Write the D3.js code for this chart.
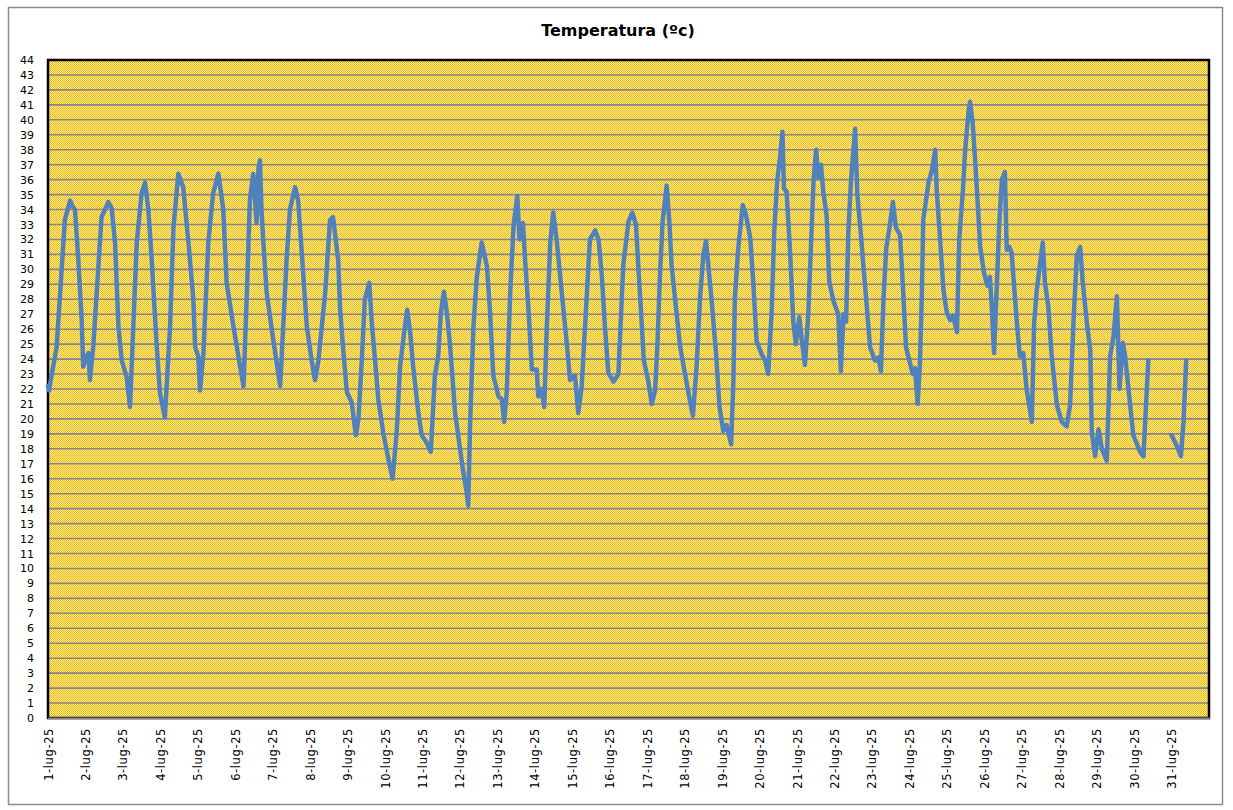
<!DOCTYPE html>
<html>
<head>
<meta charset="utf-8">
<script src="https://cdn.jsdelivr.net/npm/d3@7"></script>
<style>
  html, body { margin: 0; padding: 0; background: #ffffff; }
  svg { display: block; }
</style>
</head>
<body>
<svg id="chart" width="1233" height="810"></svg>
<script>
// ---- DATA ----
const title = "Temperatura (ºc)";
const dayLabels = ["1-lug-25","2-lug-25","3-lug-25","4-lug-25","5-lug-25","6-lug-25","7-lug-25","8-lug-25","9-lug-25","10-lug-25","11-lug-25","12-lug-25","13-lug-25","14-lug-25","15-lug-25","16-lug-25","17-lug-25","18-lug-25","19-lug-25","20-lug-25","21-lug-25","22-lug-25","23-lug-25","24-lug-25","25-lug-25","26-lug-25","27-lug-25","28-lug-25","29-lug-25","30-lug-25","31-lug-25"];
const yTicks = d3.range(0, 45);
// time in day-of-month (1.00 = 1 July 00:00), temperature in °C; null = missing reading
const times = [
 1.00,1.03,1.06,1.23,1.45,1.59,1.66,1.72,1.81,1.90,1.94,2.00,2.08,2.12,2.21,2.34,2.43,2.61,2.70,2.79,2.88,2.97,3.10,3.19,
 3.37,3.50,3.59,3.68,3.77,3.90,3.99,4.12,4.26,4.35,4.48,4.61,4.75,4.88,4.93,5.01,5.06,5.15,5.28,5.41,5.55,5.68,5.77,5.95,
 6.13,6.22,6.31,6.39,6.48,6.57,6.62,6.66,6.70,6.75,6.84,7.02,7.15,7.20,7.37,7.46,7.60,7.68,7.82,7.91,8.04,8.13,8.22,8.40,
 8.53,8.61,8.75,8.80,8.89,8.98,9.11,9.22,9.29,9.38,9.46,9.58,9.64,9.73,9.82,9.95,10.09,10.20,10.31,10.40,10.53,10.59,10.67,
 10.75,10.89,10.98,11.11,11.22,11.33,11.42,11.49,11.57,11.65,11.73,11.87,11.98,12.09,12.18,12.22,12.27,12.36,12.45,12.58,
 12.72,12.80,12.89,13.03,13.12,13.18,13.25,13.34,13.43,13.53,13.59,13.68,13.74,13.83,13.92,14.05,14.09,14.18,14.25,14.32,
 14.41,14.49,14.58,14.72,14.85,14.94,15.07,15.16,15.25,15.34,15.47,15.61,15.70,15.79,15.87,15.96,16.10,16.23,16.36,16.50,
 16.60,16.70,16.76,16.85,16.91,17.03,17.12,17.21,17.27,17.34,17.41,17.52,17.59,17.65,17.74,17.88,18.01,18.14,18.22,18.32,
 18.41,18.50,18.57,18.63,18.72,18.84,18.93,19.03,19.12,19.24,19.30,19.34,19.43,19.55,19.64,19.75,19.83,19.92,20.06,20.15,
 20.23,20.32,20.39,20.47,20.55,20.61,20.65,20.72,20.81,20.90,20.97,21.06,21.13,21.21,21.30,21.37,21.44,21.51,21.57,21.64,
 21.70,21.79,21.86,21.97,22.10,22.17,22.24,22.31,22.37,22.44,22.55,22.61,22.70,22.77,22.86,22.95,23.08,23.17,23.24,23.31,
 23.38,23.47,23.56,23.64,23.75,23.82,23.91,24.00,24.09,24.15,24.22,24.28,24.33,24.37,24.51,24.60,24.69,24.73,24.82,24.91,
 25.00,25.09,25.17,25.27,25.33,25.43,25.49,25.58,25.62,25.69,25.75,25.83,25.89,25.99,26.08,26.15,26.20,26.26,26.33,26.40,
 26.47,26.55,26.60,26.67,26.73,26.79,26.87,26.95,27.04,27.13,27.27,27.33,27.40,27.49,27.56,27.62,27.71,27.80,27.94,28.07,
 28.20,28.29,28.38,28.47,28.56,28.63,28.74,28.83,28.87,28.96,29.05,29.14,29.27,29.36,29.45,29.54,29.61,29.70,29.76,29.85,
 29.98,30.16,30.25,30.34,30.38,30.70,31.00,31.14,31.25,31.32,31.39
];
const temps = [
 22.2,21.9,22.4,24.8,33.3,34.6,34.2,34.0,30.6,26.6,23.5,24.0,24.4,22.6,24.9,30.0,33.5,34.5,34.1,31.8,26.2,23.9,22.8,20.8,
 31.8,35.1,35.8,34.0,30.6,25.0,21.7,20.1,26.2,32.8,36.4,35.5,31.8,28.0,24.8,24.2,21.9,24.4,31.8,35.1,36.4,34.0,29.1,26.2,
 23.5,22.2,28.4,34.6,36.4,33.1,36.8,37.3,34.0,31.8,28.4,25.2,23.0,22.2,30.6,34.0,35.5,34.6,29.5,26.2,23.9,22.6,23.9,28.4,
 33.3,33.5,30.6,27.3,24.4,21.8,21.1,18.9,20.0,24.0,28.0,29.1,26.6,24.0,21.3,19.1,17.3,16.0,19.1,23.5,26.2,27.3,25.8,
 23.5,20.4,18.9,18.4,17.8,22.9,24.2,27.1,28.5,27.1,25.1,20.4,18.4,16.4,15.1,14.2,19.6,26.2,29.5,31.8,
 30.2,27.3,22.9,21.5,21.3,19.8,21.8,28.4,32.9,34.9,32.0,33.1,30.6,27.3,23.3,23.3,21.5,22.0,20.8,26.2,
 31.8,33.8,32.0,28.4,25.1,22.6,22.9,20.4,22.2,26.2,32.0,32.6,32.0,29.5,26.2,23.1,22.5,23.0,30.3,33.2,
 33.8,33.0,30.3,26.5,23.9,22.5,21.0,21.9,24.8,29.6,33.2,35.6,33.2,30.3,28.1,24.8,23.0,21.2,20.2,23.6,
 28.1,31.0,31.9,30.3,27.9,24.3,20.8,19.2,19.6,18.3,22.5,28.1,31.4,34.3,33.6,32.1,29.2,25.2,24.3,23.9,
 23.0,27.0,32.5,35.9,37.6,39.2,35.4,35.2,31.4,26.5,25.0,26.8,25.2,23.6,27.0,31.4,35.9,38.0,36.1,37.0,
 35.2,33.6,29.2,27.9,27.0,23.2,27.0,26.5,32.5,35.9,39.4,35.0,32.5,30.3,27.6,24.8,23.9,24.1,23.2,28.1,
 31.4,32.8,34.5,32.8,32.3,29.2,24.8,23.9,23.0,23.4,21.0,23.6,28.1,33.3,35.8,36.6,38.0,35.3,32.0,28.6,
 27.1,26.6,26.9,25.8,32.0,35.3,38.0,40.6,41.2,39.8,37.5,34.2,31.5,29.8,28.9,29.5,27.5,24.4,28.6,33.1,
 36.0,36.5,31.3,31.5,31.1,29.1,26.4,24.2,24.4,22.0,19.8,26.4,28.6,30.4,31.8,29.1,27.5,24.2,20.9,19.8,
 19.5,20.9,26.4,30.9,31.5,29.1,26.4,24.6,19.1,17.5,19.3,18.0,17.2,24.2,25.5,28.2,22.0,25.1,24.2,22.0,
 18.9,17.8,17.5,22.0,23.9,null,18.9,18.2,17.5,19.8,23.9
];

// ---- LAYOUT ----
const plot = { left: 48, top: 60, right: 1209, bottom: 718 };
const svg = d3.select("#chart");

// outer chart border
svg.append("rect")
  .attr("x", 8.5).attr("y", 7.5).attr("width", 1214).attr("height", 797)
  .attr("fill", "#ffffff").attr("stroke", "#8c8c8c").attr("stroke-width", 1.5);

// checker pattern for plot area
const defs = svg.append("defs");
const pat = defs.append("pattern").attr("id", "chk")
  .attr("patternUnits", "userSpaceOnUse").attr("width", 2).attr("height", 2);
pat.append("rect").attr("width", 2).attr("height", 2).attr("fill", "#FFEDA4");
pat.append("rect").attr("x", 0).attr("y", 0).attr("width", 1).attr("height", 1).attr("fill", "#F4B900");
pat.append("rect").attr("x", 1).attr("y", 1).attr("width", 1).attr("height", 1).attr("fill", "#F4B900");

const x = d3.scaleLinear().domain([1, 32]).range([plot.left, plot.right]);
const y = d3.scaleLinear().domain([0, 44]).range([plot.bottom, plot.top]);

svg.append("rect")
  .attr("x", plot.left).attr("y", plot.top)
  .attr("width", plot.right - plot.left).attr("height", plot.bottom - plot.top)
  .attr("fill", "url(#chk)");

// gridlines
svg.append("g").selectAll("line").data(yTicks.filter(d => d > 0 && d < 44)).join("line")
  .attr("x1", plot.left).attr("x2", plot.right)
  .attr("y1", d => y(d)).attr("y2", d => y(d))
  .attr("stroke", "#868686").attr("stroke-width", 1.6);

// plot border
svg.append("rect")
  .attr("x", plot.left).attr("y", plot.top)
  .attr("width", plot.right - plot.left).attr("height", plot.bottom - plot.top)
  .attr("fill", "none").attr("stroke", "#000").attr("stroke-width", 2.5);
// x axis line (gray)
svg.append("line")
  .attr("x1", plot.left).attr("x2", plot.right + 1)
  .attr("y1", y(0) + 0.5).attr("y2", y(0) + 0.5)
  .attr("stroke", "#868686").attr("stroke-width", 2);

// y axis labels
const yAxis = d3.axisLeft(y).tickValues(yTicks).tickSize(0).tickPadding(14);
const gy = svg.append("g").attr("transform", `translate(${plot.left},0)`).call(yAxis);
gy.select(".domain").remove();
gy.selectAll("text").attr("font-family", "'DejaVu Sans', Verdana, sans-serif")
  .attr("font-size", 11).attr("fill", "#000");

// x axis labels
const xAxis = d3.axisBottom(x).tickValues(d3.range(1, 32)).tickFormat((d, i) => dayLabels[i]).tickSize(0);
const gx = svg.append("g").attr("transform", `translate(0,${plot.bottom})`).call(xAxis);
gx.select(".domain").remove();
gx.selectAll("text")
  .attr("font-family", "'DejaVu Sans', Verdana, sans-serif")
  .attr("font-size", 11.5).attr("letter-spacing", "0.6px").attr("fill", "#000")
  .attr("transform", "rotate(-90)")
  .attr("text-anchor", "end")
  .attr("x", -10).attr("y", 0).attr("dy", "0.35em");

// series
const pts = times.map((t, i) => ({ t, v: temps[i] }));
const line = d3.line().defined(d => d.v != null).x(d => x(d.t)).y(d => y(d.v));
svg.append("path").datum(pts)
  .attr("d", line)
  .attr("fill", "none").attr("stroke", "#4F81BD").attr("stroke-width", 4.5)
  .attr("stroke-linejoin", "round").attr("stroke-linecap", "round");

// title
svg.append("text").attr("x", 618).attr("y", 36).attr("text-anchor", "middle")
  .attr("font-family", "'DejaVu Sans', Verdana, sans-serif")
  .attr("font-weight", "bold").attr("font-size", 16).attr("fill", "#000")
  .text(title);
</script>
</body>
</html>
